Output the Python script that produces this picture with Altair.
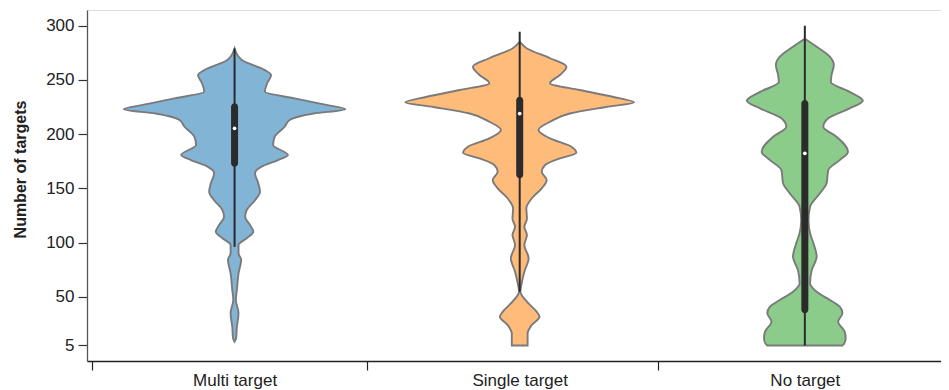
import altair as alt
import pandas as pd

categories = ["Multi target", "Single target", "No target"]
fills = ["#82b4d6", "#ffbb7a", "#8bcc8b"]

# violin outlines: value (number of targets) and relative density (half width)
multi_values = [8.5, 11.6, 22, 35, 47, 56, 71.6, 84, 90, 97.7, 104, 110, 116, 123.8, 130, 139,
                146.9, 154.6, 164, 170, 176, 180.7, 190, 197.6, 206.8, 213, 219, 223, 226.8,
                233, 239, 247, 254.5, 259, 268.4, 279]
multi_density = [0, 0.015, 0.023, 0.04, 0.013, 0.023, 0.04, 0.067, 0.04, 0.04, 0.123, 0.19,
                 0.157, 0.107, 0.123, 0.207, 0.257, 0.24, 0.207, 0.273, 0.44, 0.54, 0.39, 0.407,
                 0.507, 0.557, 0.80, 1.12, 0.94, 0.607, 0.307, 0.33, 0.37, 0.307, 0.073, 0]

single_values = [5, 10, 16, 24, 31.6, 36, 45.4, 54.6, 63.8, 73, 85.4, 97.7, 107, 114.5, 122,
                 131.6, 140.8, 150, 157.7, 165.3, 171.5, 177.6, 182.8, 188.4, 196, 203.8, 211.4,
                 219, 225, 229.3, 234.5, 240.7, 247, 254.5, 262.2, 270, 279, 285]
single_density = [0.08, 0.08, 0.08, 0.123, 0.20, 0.173, 0.073, 0.007, 0.023, 0.047, 0.09, 0.047,
                  0.073, 0.047, 0.073, 0.067, 0.123, 0.223, 0.273, 0.223, 0.257, 0.407, 0.573,
                  0.523, 0.307, 0.19, 0.307, 0.507, 0.873, 1.157, 0.94, 0.607, 0.307, 0.407,
                  0.473, 0.307, 0.073, 0]

none_values = [5, 7, 11.6, 17.8, 27, 34.7, 40.8, 47, 54.6, 62.3, 74.6, 87, 99.3, 108.5, 120.8,
               133, 145.4, 154.6, 166.9, 176, 183.8, 197.6, 206.8, 214.6, 223.8, 230.8, 239, 248,
               254.5, 263.7, 271.4, 280.6, 288]
none_density = [0.38, 0.40, 0.413, 0.403, 0.337, 0.38, 0.353, 0.253, 0.12, 0.053, 0.07, 0.12,
                0.087, 0.053, 0.037, 0.053, 0.153, 0.22, 0.237, 0.353, 0.437, 0.32, 0.187, 0.237,
                0.453, 0.587, 0.453, 0.263, 0.27, 0.293, 0.253, 0.12, 0]

# box statistics
whisker_low = [96, 54.6, 5]
whisker_high = [279, 294.5, 300]
q1 = [170, 159.3, 34.7]
q3 = [228.4, 234.5, 231.5]
median = [205.3, 219, 182.3]

y_ticks = [5, 50, 100, 150, 200, 250, 300]
x_tick_positions = [-0.5, 0.465, 1.484]

rows = []
for i, (vals, dens) in enumerate([(multi_values, multi_density),
                                  (single_values, single_density),
                                  (none_values, none_density)]):
    for v, d in zip(vals, dens):
        rows.append({"category": categories[i], "pos": i, "value": v, "density": d})
violin_df = pd.DataFrame(rows)

stats_df = pd.DataFrame({
    "category": categories,
    "pos": list(range(len(categories))),
    "low": whisker_low, "high": whisker_high,
    "q1": q1, "q3": q3, "median": median,
})

FONT = "Liberation Sans"
xscale = alt.Scale(domain=[-0.5, 2.46], nice=False, zero=False)
yscale = alt.Scale(domain=[-9.3, 314.5], nice=False, zero=False)

label_expr = " : ".join(
    [f"datum.value == {i} ? '{c}'" for i, c in enumerate(categories)]) + " : ''"
xaxis = alt.Axis(
    values=x_tick_positions + list(range(len(categories))),
    labelExpr=label_expr,
    tickOpacity={"condition": {"test": "datum.value % 1 == 0", "value": 0}, "value": 1},
    labelOverlap=False, labelFlush=False, grid=False,
    tickSize=9, tickColor="#222", tickWidth=1.2,
    domainColor="#222", domainWidth=1.3,
    labelFont=FONT, labelFontSize=17, labelColor="#222", labelPadding=2,
    title=None,
)
yaxis = alt.Axis(
    values=y_ticks, grid=False,
    tickSize=9, tickColor="#333", tickWidth=1.2,
    domainColor="#555", domainWidth=1.3,
    labelFont=FONT, labelFontSize=17, labelColor="#222", labelPadding=4,
    title="Number of targets", titleFont=FONT, titleFontSize=16, titleFontWeight="bold",
    titleColor="#222", titleAngle=270, titleAlign="center", titleBaseline="middle",
    titleX=-67, titleY=159,
)

K = 100 / 288.5

violin = alt.Chart(violin_df).transform_calculate(
    lo=f"datum.pos - datum.density * {K}",
    hi=f"datum.pos + datum.density * {K}",
).mark_area(
    orient="horizontal", interpolate="monotone", stroke="#7a7a7a", strokeWidth=1.9, opacity=1
).encode(
    y=alt.Y("value:Q", scale=yscale, axis=yaxis),
    x=alt.X("lo:Q", scale=xscale, axis=xaxis),
    x2="hi:Q",
    color=alt.Color("category:N", scale=alt.Scale(domain=categories, range=fills), legend=None),
)

whisker = alt.Chart(stats_df).mark_rule(color="#2b2b2b", strokeWidth=2).encode(
    x=alt.X("pos:Q", scale=xscale, axis=xaxis),
    y=alt.Y("low:Q", scale=yscale, axis=yaxis),
    y2="high:Q",
)

box = alt.Chart(stats_df).mark_bar(color="#2b2b2b", size=7, cornerRadius=3.5).encode(
    x=alt.X("pos:Q", scale=xscale, axis=xaxis),
    y=alt.Y("q1:Q", scale=yscale, axis=yaxis),
    y2="q3:Q",
)

med = alt.Chart(stats_df).mark_point(filled=True, color="white", size=14, opacity=1).encode(
    x=alt.X("pos:Q", scale=xscale, axis=xaxis),
    y=alt.Y("median:Q", scale=yscale, axis=yaxis),
)

chart = alt.layer(violin, whisker, box, med).properties(
    width=854, height=351,
    autosize=alt.AutoSizeParams(type="none"),
    padding={"left": 79, "top": 2, "right": 0, "bottom": 29},
).configure_view(stroke=None).configure(background="white")

chart.save("out.html", embed_options={"renderer": "svg", "actions": False})
